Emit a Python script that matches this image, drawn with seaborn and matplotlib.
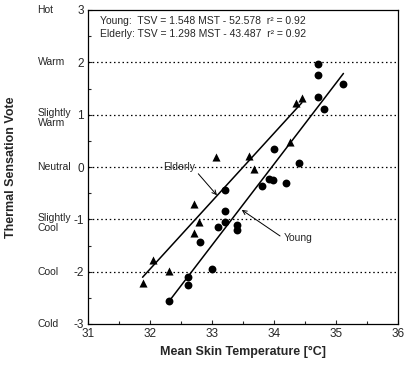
import matplotlib
matplotlib.use("Agg")
import matplotlib.pyplot as plt
import seaborn as sns
import numpy as np
import pandas as pd
from matplotlib.ticker import MultipleLocator
import matplotlib.transforms as mtransforms

# ---- data ----
young_mst = [34.71, 34.71, 34.71, 34.81, 35.12, 34.00, 34.40, 33.92, 33.99, 33.80,
             34.20, 33.21, 33.21, 33.21, 33.10, 33.40, 33.40, 32.80, 33.00, 32.61,
             32.61, 32.31]
young_tsv = [1.97, 1.76, 1.34, 1.10, 1.58, 0.34, 0.08, -0.23, -0.24, -0.36,
             -0.31, -0.44, -0.84, -1.05, -1.14, -1.11, -1.20, -1.44, -1.94, -2.10,
             -2.26, -2.57]
elderly_mst = [34.35, 34.45, 34.26, 33.07, 33.59, 33.68, 32.71, 32.79, 32.71, 32.05,
               32.31, 31.88]
elderly_tsv = [1.22, 1.31, 0.48, 0.19, 0.21, -0.04, -0.71, -1.05, -1.27, -1.78,
               -1.99, -2.21]
young_coef = [1.548, -52.578]
elderly_coef = [1.298, -43.487]
yticks = [-3, -2, -1, 0, 1, 2, 3]
ylabels_text = ["Cold", "Cool", "Slightly\nCool", "Neutral", "Slightly\nWarm", "Warm", "Hot"]
xticks = [31, 32, 33, 34, 35, 36]

sns.set_style("ticks")
fam = ["Liberation Sans Narrow", "Liberation Sans", "DejaVu Sans"]
plt.rcParams["font.family"] = fam
plt.rcParams["axes.unicode_minus"] = False

fig = plt.figure(figsize=(4.07, 3.76), dpi=100)
ax = fig.add_axes([88/407, 1-324/376, 310/407, 314/376])

df_y = pd.DataFrame({"MST": young_mst, "TSV": young_tsv})
df_e = pd.DataFrame({"MST": elderly_mst, "TSV": elderly_tsv})

# fitted lines
xy = np.array([min(young_mst), max(young_mst)])
xe = np.array([min(elderly_mst), max(elderly_mst)])
sns.lineplot(x=xy, y=young_coef[0]*xy + young_coef[1], color="black", lw=1.1, ax=ax)
sns.lineplot(x=xe, y=elderly_coef[0]*xe + elderly_coef[1], color="black", lw=1.1, ax=ax)

sns.scatterplot(data=df_y, x="MST", y="TSV", marker="o", color="black", s=32,
                edgecolor="black", linewidth=0, ax=ax, zorder=3)
sns.scatterplot(data=df_e, x="MST", y="TSV", marker="^", color="black", s=34,
                edgecolor="black", linewidth=0, ax=ax, zorder=3)

for yv in yticks[1:-1]:
    ax.axhline(yv, color="black", ls=(0, (1.2, 2.2)), lw=0.9, zorder=1)

ax.set_xlim(31, 36)
ax.set_ylim(-3, 3)
ax.set_xticks(xticks)
ax.set_yticks(yticks)
ax.xaxis.set_minor_locator(MultipleLocator(0.5))
ax.yaxis.set_minor_locator(MultipleLocator(0.5))
ax.tick_params(which="both", direction="in", top=False, right=False, labelsize=8.5)
ax.tick_params(which="major", length=3, width=0.8, pad=3)
ax.tick_params(which="minor", length=2, width=0.8)
for s in ax.spines.values():
    s.set_linewidth(0.9)
    s.set_color("black")

ax.set_xlabel("Mean Skin Temperature [°C]", fontsize=9, fontweight="bold")
ax.set_ylabel("Thermal Sensation Vote", fontsize=9, fontweight="bold")
ax.xaxis.set_label_coords(0.5, -0.07)
ax.yaxis.set_label_coords(-0.228, 0.5)

trans = mtransforms.blended_transform_factory(ax.transAxes, ax.transData)
for yv, lab in zip(yticks, ylabels_text):
    if "\n" in lab:
        ax.text(-0.163, yv + 0.12, lab, transform=trans, ha="left", va="top",
                fontsize=7.5, linespacing=1.0)
    else:
        ax.text(-0.163, yv, lab, transform=trans, ha="left", va="center", fontsize=7.5)

ax.text(0.039, 0.965, "Young:  TSV = 1.548 MST - 52.578  r² = 0.92",
        transform=ax.transAxes, fontsize=7.5, va="center", ha="left")
ax.text(0.039, 0.922, "Elderly: TSV = 1.298 MST - 43.487  r² = 0.92",
        transform=ax.transAxes, fontsize=7.5, va="center", ha="left")

ax.annotate("Elderly", xy=(33.08, -0.54), xytext=(32.21, 0.0),
            fontsize=7.5, va="center", ha="left",
            arrowprops=dict(arrowstyle="->", color="black", lw=0.7,
                            shrinkA=0, shrinkB=0, relpos=(1.0, 0.2)))
ax.annotate("Young", xy=(33.48, -0.82), xytext=(34.15, -1.36),
            fontsize=7.5, va="center", ha="left",
            arrowprops=dict(arrowstyle="->", color="black", lw=0.7,
                            shrinkA=0, shrinkB=0, relpos=(0.0, 0.5)))

fig.savefig("out.png", dpi=100)
